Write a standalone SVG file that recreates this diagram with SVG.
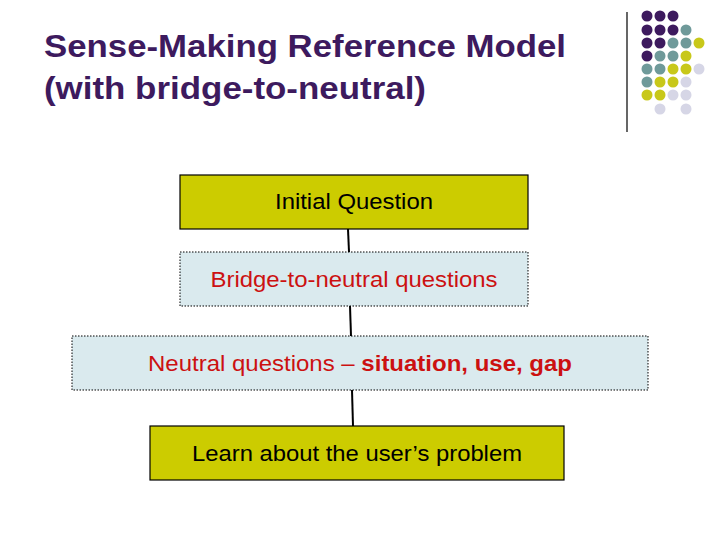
<svg xmlns="http://www.w3.org/2000/svg" width="720" height="540" viewBox="0 0 720 540">
<style>
.t{font-family:"Liberation Sans",Arial,sans-serif;font-size:22px;text-anchor:middle}
.h{font-family:"Liberation Sans",Arial,sans-serif;font-size:31px;font-weight:bold;fill:#3d1a5e}
.y{fill:#cccc00;stroke:#000;stroke-width:1.2}
.b{fill:#daeaee;stroke:#000;stroke-width:1;stroke-dasharray:1.5 1.5}
.P{fill:#3d1a5e}.T{fill:#6f9a9a}.Y{fill:#c8c81a}.L{fill:#d6d6e6}
</style>
<rect width="720" height="540" fill="#fff"/>
<text class="h" x="44" y="57" textLength="522" lengthAdjust="spacingAndGlyphs">Sense-Making Reference Model</text>
<text class="h" x="44" y="99" textLength="382" lengthAdjust="spacingAndGlyphs">(with bridge-to-neutral)</text>
<line x1="627" y1="12" x2="627" y2="132" stroke="#000" stroke-width="1.2"/>
<g id="dots">
<circle class="P" cx="647" cy="16" r="5.5"/><circle class="P" cx="660" cy="16" r="5.5"/><circle class="P" cx="673" cy="16" r="5.5"/>
<circle class="P" cx="647" cy="30" r="5.5"/><circle class="P" cx="660" cy="30" r="5.5"/><circle class="P" cx="673" cy="30" r="5.5"/><circle class="T" cx="686" cy="30" r="5.5"/>
<circle class="P" cx="647" cy="43" r="5.5"/><circle class="P" cx="660" cy="43" r="5.5"/><circle class="T" cx="673" cy="43" r="5.5"/><circle class="T" cx="686" cy="43" r="5.5"/><circle class="Y" cx="699" cy="43" r="5.5"/>
<circle class="P" cx="647" cy="56" r="5.5"/><circle class="T" cx="660" cy="56" r="5.5"/><circle class="T" cx="673" cy="56" r="5.5"/><circle class="Y" cx="686" cy="56" r="5.5"/>
<circle class="T" cx="647" cy="69" r="5.5"/><circle class="T" cx="660" cy="69" r="5.5"/><circle class="Y" cx="673" cy="69" r="5.5"/><circle class="Y" cx="686" cy="69" r="5.5"/><circle class="L" cx="699" cy="69" r="5.5"/>
<circle class="T" cx="647" cy="82" r="5.5"/><circle class="Y" cx="660" cy="82" r="5.5"/><circle class="Y" cx="673" cy="82" r="5.5"/><circle class="L" cx="686" cy="82" r="5.5"/>
<circle class="Y" cx="647" cy="95" r="5.5"/><circle class="Y" cx="660" cy="95" r="5.5"/><circle class="L" cx="673" cy="95" r="5.5"/><circle class="L" cx="686" cy="95" r="5.5"/>
<circle class="L" cx="660" cy="109" r="5.5"/><circle class="L" cx="686" cy="109" r="5.5"/>
</g>
<g id="connectors" stroke="#000" stroke-width="2" fill="none">
<path d="M348 229 L349 252"/>
<path d="M350 306 L351 336"/>
<path d="M352 390 L353 426"/>
</g>
<g id="n1"><rect class="y" x="180" y="175" width="348" height="54"/><text class="t" x="354" y="209" textLength="158" lengthAdjust="spacingAndGlyphs">Initial Question</text></g>
<g id="n2"><rect class="b" x="180" y="252" width="348" height="54"/><text class="t" x="354" y="287" fill="#cc1111" textLength="287" lengthAdjust="spacingAndGlyphs">Bridge-to-neutral questions</text></g>
<g id="n3"><rect class="b" x="72" y="336" width="576" height="54"/><text class="t" x="360" y="371" fill="#cc1111" textLength="424" lengthAdjust="spacingAndGlyphs">Neutral questions – <tspan font-weight="bold">situation, use, gap</tspan></text></g>
<g id="n4"><rect class="y" x="150" y="426" width="414" height="54"/><text class="t" x="357" y="461" textLength="330" lengthAdjust="spacingAndGlyphs">Learn about the user’s problem</text></g>
</svg>
